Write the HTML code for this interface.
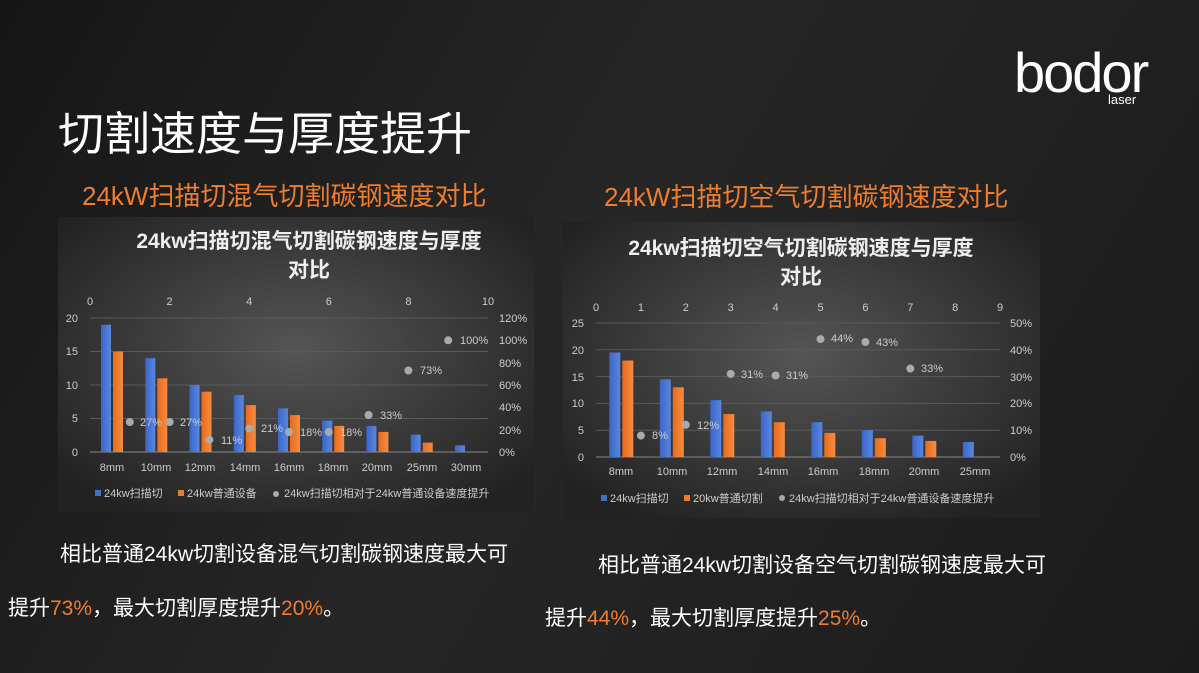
<!DOCTYPE html>
<html><head><meta charset="utf-8"><style>
body{margin:0;width:1199px;height:673px;overflow:hidden;background:linear-gradient(120deg,#161616 0%,#262626 45%,#1b1b1b 100%);font-family:"Liberation Sans","Noto Sans CJK SC",sans-serif;position:relative}
.t{position:absolute;white-space:nowrap}
.o{color:#ef7d2c}
</style></head><body>
<div class="t" style="left:58px;top:98px;font-size:46px;color:#fff">切割速度与厚度提升</div>
<div class="t o" style="left:82px;top:176px;font-size:26px">24kW扫描切混气切割碳钢速度对比</div>
<div class="t o" style="left:604px;top:177px;font-size:26px">24kW扫描切空气切割碳钢速度对比</div>
<div class="t" style="left:1014px;top:40px;font-size:56px;color:#fff;letter-spacing:-2px">bodor</div>
<div class="t" style="left:1108px;top:92px;font-size:13px;color:#fff">laser</div>
<div class="t" style="left:60px;top:538px;font-size:21px;color:#fff">相比普通24kw切割设备混气切割碳钢速度最大可</div>
<div class="t" style="left:8px;top:592px;font-size:21px;color:#fff">提升<span class="o">73%</span>，最大切割厚度提升<span class="o">20%</span>。</div>
<div class="t" style="left:598px;top:549px;font-size:21px;color:#fff">相比普通24kw切割设备空气切割碳钢速度最大可</div>
<div class="t" style="left:545px;top:602px;font-size:21px;color:#fff">提升<span class="o">44%</span>，最大切割厚度提升<span class="o">25%</span>。</div>
<svg width="1199" height="673" style="position:absolute;left:0;top:0" font-family="Liberation Sans,Noto Sans CJK SC,sans-serif">
<defs>
<radialGradient id="g" cx="50%" cy="45%" r="65%"><stop offset="0" stop-color="#555"/><stop offset="1" stop-color="#222"/></radialGradient>
<linearGradient id="b" x1="0" x2="1"><stop offset="0" stop-color="#3a66c8"/><stop offset="1" stop-color="#5a86e0"/></linearGradient>
<linearGradient id="r" x1="0" x2="1"><stop offset="0" stop-color="#e86a1c"/><stop offset="1" stop-color="#f88c40"/></linearGradient>
</defs>
<!-- chart 1 -->
<rect x="58" y="217" width="476" height="295" fill="url(#g)"/>
<g font-size="21" font-weight="bold" fill="#eee" text-anchor="middle"><text x="309" y="248">24kw扫描切混气切割碳钢速度与厚度</text><text x="309" y="277">对比</text></g>
<g stroke="#5a5a5a" stroke-width="1"><line x1="90" x2="488" y1="318" y2="318"/><line x1="90" x2="488" y1="351.5" y2="351.5"/><line x1="90" x2="488" y1="385" y2="385"/><line x1="90" x2="488" y1="418.5" y2="418.5"/></g>
<line x1="90" x2="488" y1="452" y2="452" stroke="#888"/>
<g font-size="11" fill="#ccc">
<g text-anchor="end"><text x="78" y="322">20</text><text x="78" y="355">15</text><text x="78" y="389">10</text><text x="78" y="422">5</text><text x="78" y="456">0</text></g>
<text x="499" y="322">120%</text><text x="499" y="344">100%</text><text x="499" y="367">80%</text><text x="499" y="389">60%</text><text x="499" y="411">40%</text><text x="499" y="434">20%</text><text x="499" y="456">0%</text>
<g text-anchor="middle"><text x="90" y="305">0</text><text x="169.6" y="305">2</text><text x="249.2" y="305">4</text><text x="328.8" y="305">6</text><text x="408.4" y="305">8</text><text x="488" y="305">10</text>
<text x="112" y="471">8mm</text><text x="156" y="471">10mm</text><text x="200" y="471">12mm</text><text x="245" y="471">14mm</text><text x="289" y="471">16mm</text><text x="333" y="471">18mm</text><text x="377" y="471">20mm</text><text x="422" y="471">25mm</text><text x="466" y="471">30mm</text></g>
</g>
<g fill="url(#b)"><rect x="101" y="324.7" width="10" height="127.3"/><rect x="145.3" y="358.2" width="10" height="93.8"/><rect x="189.5" y="385" width="10" height="67"/><rect x="233.8" y="395" width="10" height="57"/><rect x="278" y="408.4" width="10" height="43.6"/><rect x="322.2" y="420.5" width="10" height="31.5"/><rect x="366.4" y="425.9" width="10" height="26.1"/><rect x="410.7" y="434.6" width="10" height="17.4"/><rect x="454.9" y="445.3" width="10" height="6.7"/></g>
<g fill="url(#r)"><rect x="113" y="351.5" width="10" height="100.5"/><rect x="157.3" y="378.3" width="10" height="73.7"/><rect x="201.5" y="391.7" width="10" height="60.3"/><rect x="245.8" y="405.1" width="10" height="46.9"/><rect x="290" y="415.1" width="10" height="36.9"/><rect x="334.2" y="425.9" width="10" height="26.1"/><rect x="378.4" y="431.9" width="10" height="20.1"/><rect x="422.7" y="442.6" width="10" height="9.4"/></g>
<g fill="#aaa"><circle cx="129.8" cy="422" r="4"/><circle cx="169.6" cy="422" r="4"/><circle cx="209.4" cy="439.7" r="4"/><circle cx="249.2" cy="428.5" r="4"/><circle cx="289" cy="432" r="4"/><circle cx="328.8" cy="432" r="4"/><circle cx="368.6" cy="415" r="4"/><circle cx="408.4" cy="370.5" r="4"/><circle cx="448.2" cy="340.3" r="4"/></g>
<g font-size="11" fill="#ccc"><text x="140" y="426">27%</text><text x="180" y="426">27%</text><text x="221" y="444">11%</text><text x="261" y="432">21%</text><text x="300" y="436">18%</text><text x="340" y="436">18%</text><text x="380" y="419">33%</text><text x="420" y="374">73%</text><text x="460" y="344">100%</text></g>
<g font-size="11" fill="#ccc"><rect x="95" y="490" width="6" height="6" fill="#3f6fd0"/><text x="104" y="497">24kw扫描切</text><rect x="178" y="490" width="6" height="6" fill="#f07a2a"/><text x="187" y="497">24kw普通设备</text><circle cx="276" cy="494" r="3" fill="#aaa"/><text x="284" y="497">24kw扫描切相对于24kw普通设备速度提升</text></g>
<!-- chart 2 -->
<rect x="563" y="222" width="477" height="296" fill="url(#g)"/>
<g font-size="21" font-weight="bold" fill="#eee" text-anchor="middle"><text x="801" y="255">24kw扫描切空气切割碳钢速度与厚度</text><text x="801" y="284">对比</text></g>
<g stroke="#5a5a5a"><line x1="596" x2="1000" y1="323" y2="323"/><line x1="596" x2="1000" y1="349.8" y2="349.8"/><line x1="596" x2="1000" y1="376.6" y2="376.6"/><line x1="596" x2="1000" y1="403.4" y2="403.4"/><line x1="596" x2="1000" y1="430.2" y2="430.2"/></g>
<line x1="596" x2="1000" y1="457" y2="457" stroke="#888"/>
<g font-size="11" fill="#ccc">
<g text-anchor="end"><text x="584" y="327">25</text><text x="584" y="354">20</text><text x="584" y="381">15</text><text x="584" y="407">10</text><text x="584" y="434">5</text><text x="584" y="461">0</text></g>
<text x="1010" y="327">50%</text><text x="1010" y="354">40%</text><text x="1010" y="381">30%</text><text x="1010" y="407">20%</text><text x="1010" y="434">10%</text><text x="1010" y="461">0%</text>
<g text-anchor="middle"><text x="596" y="311">0</text><text x="640.9" y="311">1</text><text x="685.8" y="311">2</text><text x="730.7" y="311">3</text><text x="775.6" y="311">4</text><text x="820.5" y="311">5</text><text x="865.4" y="311">6</text><text x="910.3" y="311">7</text><text x="955.2" y="311">8</text><text x="1000" y="311">9</text>
<text x="621" y="475">8mm</text><text x="672" y="475">10mm</text><text x="722" y="475">12mm</text><text x="773" y="475">14mm</text><text x="823" y="475">16mm</text><text x="874" y="475">18mm</text><text x="924" y="475">20mm</text><text x="975" y="475">25mm</text></g>
</g>
<g fill="url(#b)"><rect x="609.3" y="352.5" width="11" height="104.5"/><rect x="659.8" y="379.3" width="11" height="77.7"/><rect x="710.3" y="400.2" width="11" height="56.8"/><rect x="760.8" y="411.4" width="11" height="45.6"/><rect x="811.3" y="422.2" width="11" height="34.8"/><rect x="861.8" y="430.2" width="11" height="26.8"/><rect x="912.3" y="435.6" width="11" height="21.4"/><rect x="962.8" y="442" width="11" height="15"/></g>
<g fill="url(#r)"><rect x="622.3" y="360.5" width="11" height="96.5"/><rect x="672.8" y="387.3" width="11" height="69.7"/><rect x="723.3" y="414.1" width="11" height="42.9"/><rect x="773.8" y="422.2" width="11" height="34.8"/><rect x="824.3" y="432.9" width="11" height="24.1"/><rect x="874.8" y="438.2" width="11" height="18.8"/><rect x="925.3" y="440.9" width="11" height="16.1"/></g>
<g fill="#aaa"><circle cx="640.9" cy="435.6" r="4"/><circle cx="685.8" cy="424.8" r="4"/><circle cx="730.7" cy="373.9" r="4"/><circle cx="775.6" cy="375.5" r="4"/><circle cx="820.5" cy="339.1" r="4"/><circle cx="865.4" cy="342" r="4"/><circle cx="910.3" cy="368.6" r="4"/></g>
<g font-size="11" fill="#ccc"><text x="652" y="439">8%</text><text x="697" y="429">12%</text><text x="741" y="378">31%</text><text x="786" y="379">31%</text><text x="831" y="342">44%</text><text x="876" y="346">43%</text><text x="921" y="372">33%</text></g>
<g font-size="11" fill="#ccc"><rect x="601" y="495" width="6" height="6" fill="#3f6fd0"/><text x="610" y="502">24kw扫描切</text><rect x="684" y="495" width="6" height="6" fill="#f07a2a"/><text x="693" y="502">20kw普通切割</text><circle cx="782" cy="498" r="3" fill="#aaa"/><text x="789" y="502">24kw扫描切相对于24kw普通设备速度提升</text></g>
</svg>
</body></html>
